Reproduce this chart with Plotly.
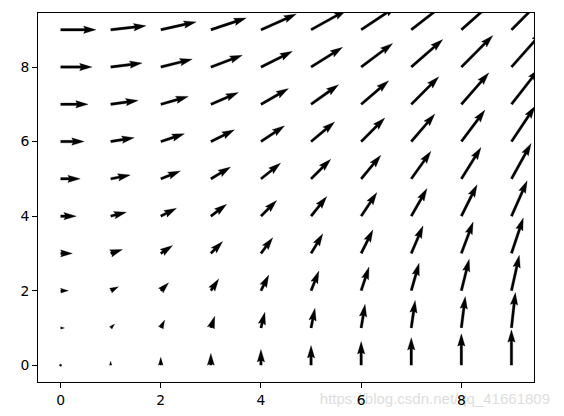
import numpy as np
import plotly.graph_objects as go

# ---- data ----
x_vals = [0, 1, 2, 3, 4, 5, 6, 7, 8, 9]
y_vals = [0, 1, 2, 3, 4, 5, 6, 7, 8, 9]
u_by_row = [0, 1, 2, 3, 4, 5, 6, 7, 8, 9]   # horizontal component, per y row
v_by_col = [0, 1, 2, 3, 4, 5, 6, 7, 8, 9]   # vertical component, per x column
x_ticks = [0, 2, 4, 6, 8]
y_ticks = [0, 2, 4, 6, 8]
watermark = "https://blog.csdn.net/qq_41661809"

# ---- layout geometry (page body has an 8px default margin) ----
W, H = 556, 408
ml, mr, mt, mb = 30, 30, 5, 34
pw, ph = W - ml - mr, H - mt - mb
xr = [-0.45, 9.45]
yr = [-0.45, 9.45]
sx = pw / (xr[1] - xr[0])
sy = ph / (yr[1] - yr[0])

X, Y = np.meshgrid(np.array(x_vals, float), np.array(y_vals, float))
U = np.array(u_by_row, float)[:, None] * np.ones((1, len(x_vals)))
V = np.ones((len(y_vals), 1)) * np.array(v_by_col, float)[None, :]
mag = np.hypot(U, V)

# matplotlib-like quiver autoscale
width_px = 0.005 * pw
px_per_mag = pw / (1.8 * mag.mean() * max(10, np.sqrt(mag.size)))
headwidth, headlength, headaxislength = 3.0, 5.0, 4.5
minsh = headlength
ii = [0, 1, 2, 3, 2, 1, 0]

xs, ys = [], []
for xv, yv, u, v, m in zip(X.ravel(), Y.ravel(), U.ravel(), V.ravel(), mag.ravel()):
    L = m * px_per_mag / width_px  # length in width units
    if L < 1.0:
        th = np.arange(0, 7) * np.pi / 3
        px = np.cos(th) * 0.5
        py = np.sin(th) * 0.5
    else:
        if L >= minsh:
            xb = np.array([0, L - headaxislength, L - headlength, L])
            yb = 0.5 * np.array([1, 1, headwidth, 0])
            s = 1.0
        else:
            xb = np.array([0, minsh - headaxislength, minsh - headlength, minsh])
            yb = 0.5 * np.array([1, 1, headwidth, 0])
            s = L / minsh
        px = xb[ii] * s
        py = yb[ii] * s
        py[3:] *= -1
    ang = np.arctan2(v, u)
    c, sn = np.cos(ang), np.sin(ang)
    rx = (px * c - py * sn) * width_px
    ry = (px * sn + py * c) * width_px
    xs.extend(list(xv + rx / sx) + [None])
    ys.extend(list(yv + ry / sy) + [None])

fig = go.Figure()

# watermark: on a full-figure background subplot (drawn below the chart's tick labels)
fig.add_trace(go.Scatter(
    x=[W - 14], y=[16], xaxis="x", yaxis="y",
    mode="text", text=[watermark], textposition="middle left",
    textfont=dict(family="Liberation Sans", size=15, color="#dedede"),
    hoverinfo="skip", showlegend=False))

# quiver arrows on the main chart subplot
fig.add_trace(go.Scatter(
    x=xs, y=ys, xaxis="x2", yaxis="y2", mode="lines", fill="toself",
    fillcolor="black", line=dict(color="black", width=0.3),
    hoverinfo="skip", showlegend=False))

axis_common = dict(showgrid=False, zeroline=False, showline=True, mirror=True,
                   linecolor="black", linewidth=1, ticks="outside", ticklen=5,
                   tickwidth=1, tickcolor="black", automargin=False,
                   tickfont=dict(family="DejaVu Sans", size=13.9, color="black"))

fig.update_layout(
    width=W, height=H, margin=dict(l=0, r=0, t=0, b=0),
    plot_bgcolor="rgba(0,0,0,0)", paper_bgcolor="white",
    xaxis=dict(domain=[0, 1], range=[0, W], visible=False, fixedrange=True),
    yaxis=dict(domain=[0, 1], range=[0, H], visible=False, fixedrange=True),
    xaxis2=dict(domain=[ml / W, (W - mr) / W], range=xr, tickvals=x_ticks,
                anchor="y2", **axis_common),
    yaxis2=dict(domain=[mb / H, (H - mt) / H], range=yr, tickvals=y_ticks,
                anchor="x2", **axis_common),
)
fig.write_html("out.html")
